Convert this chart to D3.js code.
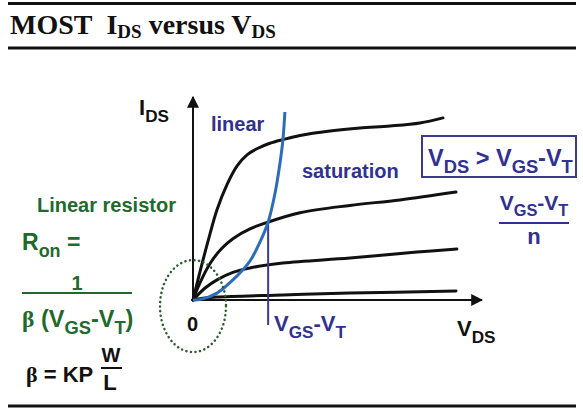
<!DOCTYPE html>
<html><head><meta charset="utf-8">
<script src="https://cdn.jsdelivr.net/npm/d3@7/dist/d3.min.js"></script>
<style>body{margin:0;background:#fff}svg{display:block}</style>
</head><body><div id="c"></div>
<script>
// ---- data (V_DS, I_DS in arbitrary units) ----
const curveNames = ["vgs4","vgs3","vgs2","vgs1"];
const curve4X = [0,0.24,0.52,0.83,1.18,1.52,1.87,2.21,2.66,3.11,3.70,4.74,5.78,6.82,7.85,8.65];
const curve4Y = [0,1.38,2.90,4.45,5.70,6.60,7.15,7.45,7.72,7.90,8.10,8.32,8.47,8.57,8.72,8.97];
const curve3X = [0,0.24,0.59,1.00,1.38,1.97,2.60,3.70,5.43,7.16,9.10];
const curve3Y = [0,0.84,1.80,2.55,3.02,3.50,3.84,4.30,4.66,4.93,5.32];
const curve2X = [0,0.42,0.83,1.38,1.97,3.11,5.43,7.75,9.13];
const curve2Y = [0,0.59,0.99,1.36,1.58,1.82,2.07,2.36,2.51];
const curve1X = [0,0.42,0.83,3.11,5.43,9.10];
const curve1Y = [0,0.10,0.15,0.25,0.34,0.44];
const satX = [0,0.24,0.83,1.38,1.97,2.32,2.60,2.84,3.01,3.11,3.18];
const satY = [0,0.02,0.34,0.99,1.92,2.86,3.84,5.27,6.75,7.88,9.26];
const vLineX = 2.60, vLineTop = 3.84, vLineBottom = -1.23;
const xAxisMax = 10, yAxisMax = 10;

const W = 583, H = 412;
const svg = d3.select("#c").append("svg").attr("width", W).attr("height", H);
const x = d3.scaleLinear().domain([0, 10]).range([193, 482]);
const y = d3.scaleLinear().domain([0, 10]).range([300, 97]);

const blueText = "#303192", green = "#1f6a2c", curveBlue = "#2d6db8";

// frame lines
[3.5, 48, 406].forEach(yy => svg.append("line").attr("x1", 8).attr("x2", 576)
  .attr("y1", yy).attr("y2", yy).attr("stroke", "#111").attr("stroke-width", 3));

// title
const t = svg.append("text").attr("x", 10).attr("y", 34)
  .attr("font-family", "Liberation Serif, Times New Roman, serif").attr("font-weight", "bold")
  .attr("font-size", 28).attr("fill", "#111");
t.append("tspan").text("MOST\u00a0\u00a0I");
t.append("tspan").attr("font-size", 19).attr("dy", 4).text("DS");
t.append("tspan").attr("dy", -4).text(" versus V");
t.append("tspan").attr("font-size", 19).attr("dy", 4).text("DS");

// arrow marker
const defs = svg.append("defs");
defs.append("marker").attr("id", "arr").attr("viewBox", "0 0 10 10").attr("refX", 9).attr("refY", 5)
  .attr("markerWidth", 12).attr("markerHeight", 12).attr("markerUnits", "userSpaceOnUse")
  .attr("orient", "auto").append("path").attr("d", "M0,0 L10,5 L0,10 z").attr("fill", "#111");

// axes
svg.append("line").attr("x1", x(0)).attr("y1", y(0)).attr("x2", x(0)).attr("y2", y(yAxisMax))
  .attr("stroke", "#111").attr("stroke-width", 2).attr("marker-end", "url(#arr)");
svg.append("line").attr("x1", x(0)).attr("y1", y(0)).attr("x2", x(xAxisMax)).attr("y2", y(0))
  .attr("stroke", "#111").attr("stroke-width", 2).attr("marker-end", "url(#arr)");

const line = d3.line().x(d => x(d[0])).y(d => y(d[1])).curve(d3.curveCatmullRom.alpha(0.5));
const curves = [[curve4X, curve4Y], [curve3X, curve3Y], [curve2X, curve2Y], [curve1X, curve1Y]];
svg.selectAll("path.iv").data(curves).join("path").attr("class", "iv")
  .attr("d", c => line(d3.zip(c[0], c[1])))
  .attr("fill", "none").attr("stroke", "#111").attr("stroke-width", 3).attr("stroke-linecap", "round");

// vertical V_GS - V_T line
svg.append("line").attr("x1", x(vLineX)).attr("x2", x(vLineX)).attr("y1", y(vLineTop)).attr("y2", y(vLineBottom))
  .attr("stroke", "#3b3b8e").attr("stroke-width", 2);

// saturation boundary
svg.append("path").attr("d", line(d3.zip(satX, satY))).attr("fill", "none")
  .attr("stroke", curveBlue).attr("stroke-width", 3);

// dotted ellipse
svg.append("ellipse").attr("cx", x(0)).attr("cy", y(-0.3)).attr("rx", 33).attr("ry", 46)
  .attr("fill", "none").attr("stroke", "#2b5e2b").attr("stroke-width", 2.5)
  .attr("stroke-dasharray", "0.1 4.5").attr("stroke-linecap", "round");

const sans = "Liberation Sans, Arial, sans-serif";
function label(px, py, parts, opts) {
  const el = svg.append("text").attr("x", px).attr("y", py).attr("font-family", sans)
    .attr("font-weight", "bold").attr("font-size", opts.size).attr("fill", opts.fill);
  if (opts.anchor) el.attr("text-anchor", opts.anchor);
  const r = opts.subRatio || 0.78;
  let sub = false;
  parts.forEach(p => {
    const ts = el.append("tspan").text(p.t);
    if (p.sub && !sub) { ts.attr("dy", opts.size * 0.3).attr("font-size", opts.size * r); sub = true; }
    else if (p.sub) { ts.attr("font-size", opts.size * r); }
    else if (!p.sub && sub) { ts.attr("dy", -opts.size * 0.3); sub = false; }
    if (p.font) ts.attr("font-family", p.font);
  });
  return el;
}

// axis labels
label(139, 115, [{t:"I"},{t:"DS",sub:true}], {size:22, fill:"#111"});
label(457, 336, [{t:"V"},{t:"DS",sub:true}], {size:22, fill:"#111"});
label(187, 331, [{t:"0"}], {size:20, fill:"#111"});
label(274, 331, [{t:"V"},{t:"GS",sub:true},{t:"-V"},{t:"T",sub:true}], {size:22, fill:blueText});

// region labels
label(211, 131, [{t:"linear"}], {size:20, fill:blueText});
label(302, 178, [{t:"saturation"}], {size:20, fill:blueText});

// box condition
svg.append("rect").attr("x", 422).attr("y", 136).attr("width", 154).attr("height", 41)
  .attr("fill", "none").attr("stroke", "#3b3b8e").attr("stroke-width", 2);
label(428, 166, [{t:"V"},{t:"DS",sub:true},{t:" > V"},{t:"GS",sub:true},{t:"-V"},{t:"T",sub:true}], {size:23.5, fill:blueText});

// fraction (VGS-VT)/n
label(534, 210, [{t:"V"},{t:"GS",sub:true},{t:"-V"},{t:"T",sub:true}], {size:21, fill:blueText, anchor:"middle"});
svg.append("line").attr("x1", 499).attr("x2", 569).attr("y1", 223).attr("y2", 223).attr("stroke", blueText).attr("stroke-width", 2);
label(534, 244, [{t:"n"}], {size:22, fill:blueText, anchor:"middle"});

// left: linear resistor
label(37, 212, [{t:"Linear resistor"}], {size:20, fill:green});
label(22, 250, [{t:"R"},{t:"on",sub:true},{t:" ="}], {size:23, fill:green});
label(77, 290, [{t:"1"}], {size:20, fill:green, anchor:"middle"});
svg.append("line").attr("x1", 22).attr("x2", 132).attr("y1", 293).attr("y2", 293).attr("stroke", green).attr("stroke-width", 2);
label(22, 327, [{t:"β", font:"Liberation Serif, serif"},{t:" (V"},{t:"GS",sub:true},{t:"-V"},{t:"T",sub:true},{t:")"}], {size:23.5, fill:green});

label(26, 382, [{t:"β", font:"Liberation Serif, serif"},{t:" = KP"}], {size:22, fill:"#111"});
label(111, 362, [{t:"W"}], {size:20, fill:"#111", anchor:"middle"});
svg.append("line").attr("x1", 101).attr("x2", 122).attr("y1", 368).attr("y2", 368).attr("stroke", "#111").attr("stroke-width", 2);
label(110, 390, [{t:"L"}], {size:22, fill:"#111", anchor:"middle"});
</script></body></html>
